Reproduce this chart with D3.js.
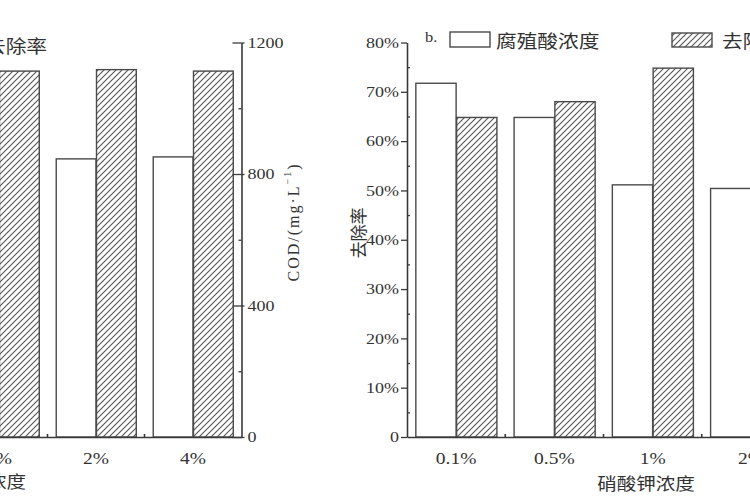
<!DOCTYPE html>
<html><head><meta charset="utf-8">
<script src="https://cdn.jsdelivr.net/npm/d3@7"></script>
<style>body{margin:0;background:#fff} svg{display:block}</style>
</head><body><svg id="c" width="750" height="500"></svg>
<script>
// ---- data ----
const leftCategories = ["1%", "2%", "4%"];
const leftCOD = [870, 846, 852];          // white bars (COD, mg/L)
const leftRemoval = [74.2, 74.5, 74.2];   // hatched bars (去除率, %)
const rightCategories = ["0.1%", "0.5%", "1%", "2%"];
const rightCOD = [1076, 972, 767, 756];   // white bars (on the COD scale, axis off-screen)
const rightRemoval = [64.8, 68.0, 74.8, 72.0]; // hatched bars (去除率, %)
const pctTicks = [0, 10, 20, 30, 40, 50, 60, 70, 80];
const pctMinor = [5, 15, 25, 35, 45, 55, 65, 75];
const codTicks = [0, 400, 800, 1200];
const codMinor = [200, 600, 1000];

// ---- layout ----
const svg = d3.select("#c");
const yTop = 42.5, yBot = 437;
const yPct = d3.scaleLinear([0, 80], [yBot, yTop]);
const yCOD = d3.scaleLinear([0, 1200], [yBot, yTop]);
const xL = d3.scaleBand(leftCategories, [-49.5, 241.5]);
const xR = d3.scaleBand(rightCategories, [407, 800]);
const ink = "#3a3a3a";
const serif = "'Liberation Serif','Times New Roman',serif";
const cjk = "'Noto Sans CJK SC','Noto Sans CJK JP',sans-serif";

const defs = svg.append("defs");
const pat = defs.append("pattern").attr("id", "hatch")
  .attr("patternUnits", "userSpaceOnUse").attr("width", 6).attr("height", 6);
pat.append("rect").attr("width", 6).attr("height", 6).attr("fill", "#fff");
pat.append("path").attr("d", "M-1.5,1.5 L1.5,-1.5 M0,6 L6,0 M4.5,7.5 L7.5,4.5")
  .attr("stroke", "#555").attr("stroke-width", 1.1);

function stretch(sel, s) {
  sel.each(function () {
    const t = d3.select(this);
    const x = +t.attr("x") || 0;
    t.attr("x", 0).attr("transform", `translate(${x},0) scale(${s},1)`);
  });
}

function bars(x, cats, whiteVals, whiteScale, hatchVals, hatchScale) {
  const bw = x.bandwidth() * 0.41;
  const g = svg.append("g");
  g.selectAll(".w").data(cats).join("rect")
    .attr("x", (d) => x(d) + x.bandwidth() / 2 - bw)
    .attr("y", (d, i) => whiteScale(whiteVals[i]))
    .attr("width", bw)
    .attr("height", (d, i) => yBot - whiteScale(whiteVals[i]))
    .attr("fill", "#fff").attr("stroke", "#4a4a4a").attr("stroke-width", 1.4);
  g.selectAll(".h").data(cats).join("rect")
    .attr("x", (d) => x(d) + x.bandwidth() / 2 + 0.5)
    .attr("y", (d, i) => hatchScale(hatchVals[i]))
    .attr("width", bw)
    .attr("height", (d, i) => yBot - hatchScale(hatchVals[i]))
    .attr("fill", "url(#hatch)").attr("stroke", "#4a4a4a").attr("stroke-width", 1.4);
}

bars(xL, leftCategories, leftCOD, yCOD, leftRemoval, yPct);
bars(xR, rightCategories, rightCOD, yCOD, rightRemoval, yPct);

function styleAxis(g) {
  g.select(".domain").attr("stroke", ink).attr("stroke-width", 1.6);
  g.selectAll(".tick line").attr("stroke", ink).attr("stroke-width", 1.3);
  g.selectAll("text").attr("fill", "#333").attr("font-family", serif).attr("font-size", 15);
}
const pctFmt = (d) => (d === 0 ? "0" : d + "%");

// left panel: COD axis (right)
const codG = svg.append("g").attr("transform", "translate(241.5,0)")
  .call(d3.axisRight(yCOD).tickValues(codTicks).tickFormat(d3.format("d"))
    .tickSize(3).tickPadding(3).tickSizeOuter(0))
  .call(styleAxis);
stretch(codG.selectAll("text"), 1.2);
svg.append("g").attr("transform", "translate(241.5,0)")
  .call(d3.axisRight(yCOD).tickValues(codTicks).tickSize(-9).tickFormat(""))
  .call((g) => g.select(".domain").remove()).call(styleAxis);
svg.append("g").attr("transform", "translate(241.5,0)")
  .call(d3.axisRight(yCOD).tickValues(codMinor).tickSize(-3).tickFormat(""))
  .call((g) => g.select(".domain").remove()).call(styleAxis);

// right panel: % axis (left)
const pctG = svg.append("g").attr("transform", "translate(407,0)")
  .call(d3.axisLeft(yPct).tickValues(pctTicks).tickFormat(pctFmt).tickSize(6).tickPadding(2).tickSizeOuter(0))
  .call(styleAxis);
stretch(pctG.selectAll("text"), 1.2);
svg.append("g").attr("transform", "translate(407,0)")
  .call(d3.axisLeft(yPct).tickValues(pctMinor).tickSize(-3).tickFormat(""))
  .call((g) => g.select(".domain").remove()).call(styleAxis);

// x axes
function xAxis(x, cats) {
  const g = svg.append("g").attr("transform", `translate(0,${yBot})`)
    .call(d3.axisBottom(x).tickSize(0).tickPadding(16).tickSizeOuter(0))
    .call(styleAxis);
  g.selectAll("text").attr("font-size", 16);
  stretch(g.selectAll("text"), 1.22);
  g.selectAll(".sep").data(cats.slice(1)).join("line")
    .attr("x1", (d) => x(d)).attr("x2", (d) => x(d))
    .attr("y1", 0).attr("y2", -3).attr("stroke", ink).attr("stroke-width", 1.6);
}
xAxis(xL, leftCategories);
xAxis(xR, rightCategories);

// texts
function label(txt, x, y, opts = {}) {
  return svg.append("text")
    .attr("transform", `translate(${x},${y}) ` + (opts.rot ? `rotate(${opts.rot})` : `scale(${opts.s || 1.15},1)`))
    .attr("text-anchor", opts.anchor || "start")
    .attr("dominant-baseline", "central")
    .attr("font-family", opts.font || cjk)
    .attr("font-size", opts.size || 17)
    .attr("fill", "#333")
    .text(txt);
}
label("去除率", 47, 45.5, { anchor: "end", size: 18 });
label("腐殖酸浓度", 26, 481, { anchor: "end" });
label("硝酸钾浓度", 646, 483, { anchor: "middle" });
label("b.", 425, 37, { font: serif, size: 15, s: 1.1 });
label("去除率", 357, 233, { anchor: "middle", rot: -90 });

// legend boxes
svg.append("rect").attr("x", 450).attr("y", 32).attr("width", 40).attr("height", 15)
  .attr("fill", "#fff").attr("stroke", "#4a4a4a").attr("stroke-width", 1.4);
label("腐殖酸浓度", 496, 40.5, { size: 18 });
svg.append("rect").attr("x", 672).attr("y", 33).attr("width", 40).attr("height", 14)
  .attr("fill", "url(#hatch)").attr("stroke", "#4a4a4a").attr("stroke-width", 1.4);
label("去除率", 722, 40.5, { size: 18 });

// COD axis title
const cod = svg.append("text")
  .attr("transform", "translate(293,222) rotate(-90)")
  .attr("text-anchor", "middle").attr("dominant-baseline", "central")
  .attr("font-family", serif).attr("font-size", 16).attr("fill", "#333")
  .attr("letter-spacing", 2);
cod.append("tspan").text("COD/(mg·L");
cod.append("tspan").attr("font-size", 10).attr("dy", -6).text("−1");
cod.append("tspan").attr("dy", 6).text(")");
</script></body></html>
